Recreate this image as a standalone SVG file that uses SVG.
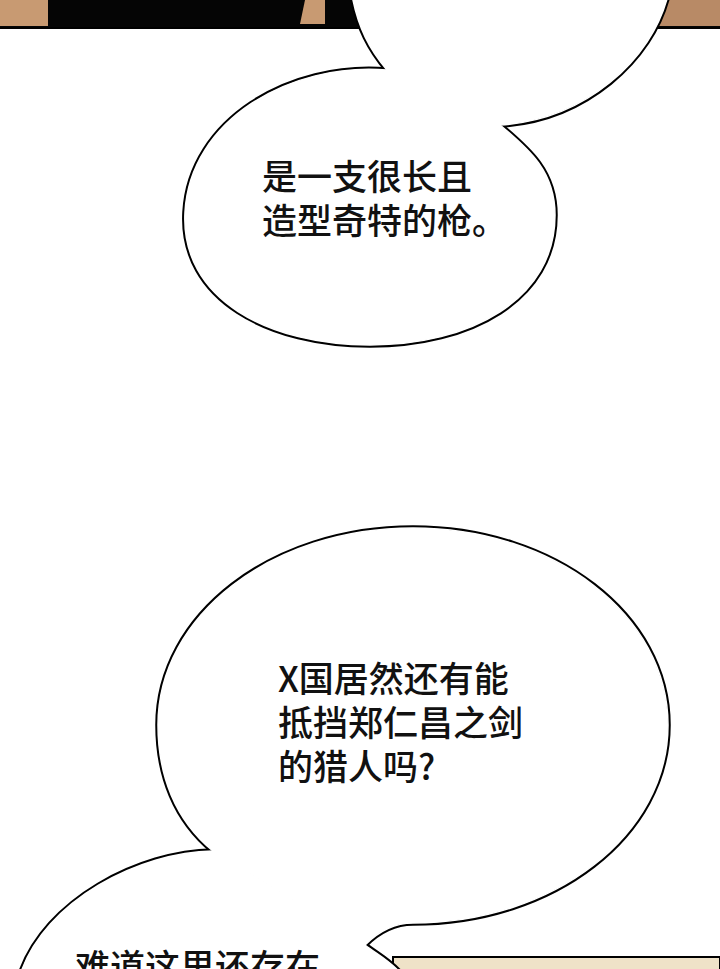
<svg xmlns="http://www.w3.org/2000/svg" width="720" height="969" viewBox="0 0 720 969">
<style>
.s{fill:none;stroke:#000;stroke-width:5.5;stroke-linejoin:miter}
.f{fill:#fff;stroke:#fff;stroke-width:1.5}
.t{font-family:"Noto Sans CJK SC","Noto Sans",sans-serif;font-size:35px;font-weight:500;fill:#111}
</style>
<defs>
<path id="pTop" d="M352,-5 C358,28 370,50 387,70 L500,125 C585,120 652,60 668,-5 Z"/>
<path id="pMid" d="M387,70 C290,62 190,120 185,212 C180,300 270,345 370,345 C470,345 555,300 555,215 C555,172 530,150 500,125 L387,70 Z"/>
<path id="pBig" d="M213,851 C175,820 158,775 158,725 C158,615 272,528 413,528 C554,528 668,615 668,725 C668,835 554,923 413,923 C393,923 378,932 365,945 L213,851 Z"/>
<path id="pBot" d="M213,851 C140,852 45,900 20,975 L402,975 C392,962 378,955 365,945 Z"/>
</defs>
<rect width="720" height="969" fill="#fff"/>
<g id="top-panel">
<rect x="0" y="0" width="720" height="28" fill="#050505"/>
<rect x="0" y="0" width="48" height="26" fill="#c89a72"/>
<polygon points="305,0 325,0 325,24 300,24" fill="#c89a72"/>
<rect x="655" y="0" width="65" height="26" fill="#b88a66"/>
<line x1="0" y1="28" x2="720" y2="28" stroke="#000" stroke-width="2"/>
</g>
<g id="bottom-panel">
<rect x="393" y="957" width="327" height="14" fill="#efe2c8" stroke="#000" stroke-width="2"/>
</g>
<g id="bubble-top">
<use href="#pTop" class="s"/>
</g>
<g id="bubble-mid">
<use href="#pMid" class="s"/>
</g>
<g id="bubble-big">
<use href="#pBig" class="s"/>
</g>
<g id="bubble-bottom">
<use href="#pBot" class="s"/>
</g>
<g id="fills">
<use href="#pTop" class="f"/>
<use href="#pMid" class="f"/>
<use href="#pBig" class="f"/>
<use href="#pBot" class="f"/>
</g>
<g id="texts">
<text class="t" x="262" y="190">是一支很长且</text>
<text class="t" x="262" y="234">造型奇特的枪。</text>
<text class="t" x="278" y="692">X国居然还有能</text>
<text class="t" x="278" y="736">抵挡郑仁昌之剑</text>
<text class="t" x="278" y="780">的猎人吗?</text>
<text class="t" x="75" y="980">难道这里还存在</text>
</g>
<g id="connectors"/>
</svg>
